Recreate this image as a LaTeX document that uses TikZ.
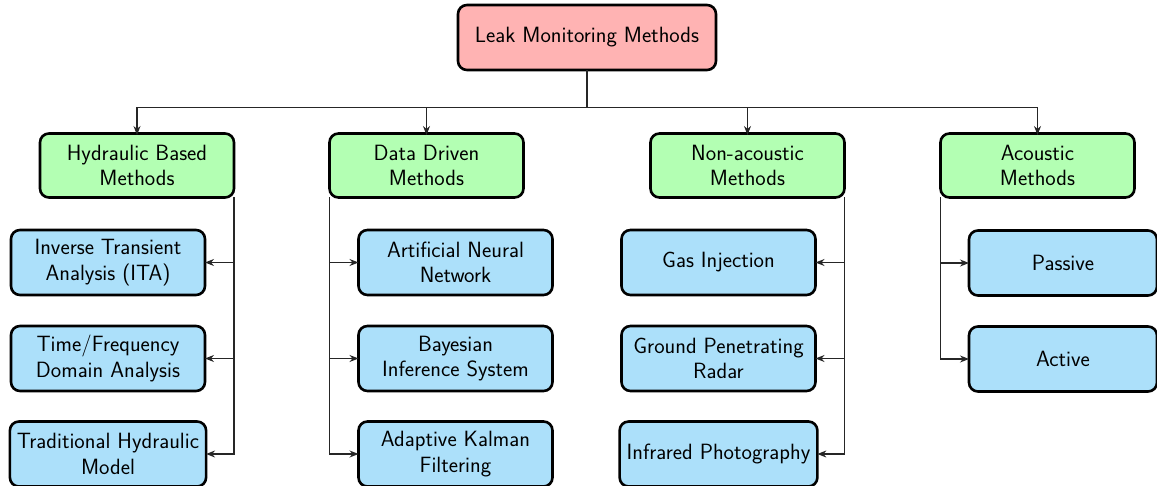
\documentclass[tikz,border=0pt]{standalone}
\usepackage{fontspec}
\usetikzlibrary{arrows.meta}
\definecolor{rootfill}{RGB}{255,179,179}
\definecolor{catfill}{RGB}{179,255,179}
\definecolor{leaffill}{RGB}{172,224,250}
\tikzset{
  x=1pt, y=-1pt,
  box/.style={draw=black, line width=2.6pt, rounded corners=9pt, align=center,
    inner sep=7pt, outer sep=0pt, minimum width=194pt, minimum height=64pt,
    font=\sffamily\fontsize{22.1}{25.3}\selectfont},
  rootbox/.style={box, fill=rootfill, minimum width=258pt, minimum height=65pt},
  catbox/.style={box, fill=catfill},
  leafbox/.style={box, fill=leaffill, minimum height=65pt},
  conn/.style={draw=black!85, line width=1.2pt},
  arr/.style={conn, -{Stealth[length=9pt,width=7pt]}},
}
\begin{document}
\begin{tikzpicture}
\useasboundingbox (0,0) rectangle (1157,486);
\node[rootbox] (root) at (587,37.5) {Leak Monitoring Methods};

\node[catbox] (hyd) at (137,165.5) {Hydraulic Based\\Methods};
\node[catbox] (dat) at (426.5,165.5) {Data Driven\\Methods};
\node[catbox] (non) at (747.5,165.5) {Non-acoustic\\Methods};
\node[catbox] (aco) at (1037.5,165.5) {Acoustic\\Methods};

\node[leafbox] (ita) at (108,262.5) {Inverse Transient\\Analysis (ITA)};
\node[leafbox] (tfd) at (108,358.5) {Time/Frequency\\Domain Analysis};
\node[leafbox] (thm) at (108,454) {Traditional Hydraulic\\Model};

\node[leafbox] (ann) at (455.5,262.5) {Artificial Neural\\Network};
\node[leafbox] (bis) at (455.5,358.5) {Bayesian\\Inference System};
\node[leafbox] (akf) at (455.5,454) {Adaptive Kalman\\Filtering};

\node[leafbox] (gas) at (718.5,262.5) {Gas Injection};
\node[leafbox] (gpr) at (718.5,358.5) {Ground Penetrating\\Radar};
\node[leafbox] (irp) at (718.5,454) {Infrared Photography};

\node[leafbox, minimum width=188pt] (pas) at (1063,263) {Passive};
\node[leafbox, minimum width=188pt] (act) at (1063,359) {Active};

% root to categories
\coordinate (bus) at (587,107.5);
\draw[conn] (root.south) -- (bus);
\foreach \c in {hyd,dat,non,aco}
  \draw[arr] (bus) -| ([yshift=-1.5pt]\c.north);

% hydraulic
\foreach \l in {ita,tfd,thm}
  \draw[arr] (hyd.south east) |- (\l.east);
% data driven
\foreach \l in {ann,bis,akf}
  \draw[arr] (dat.south west) |- (\l.west);
% non-acoustic
\foreach \l in {gas,gpr,irp}
  \draw[arr] (non.south east) |- (\l.east);
% acoustic
\foreach \l in {pas,act}
  \draw[arr] (aco.south west) |- (\l.west);
\end{tikzpicture}
\end{document}
